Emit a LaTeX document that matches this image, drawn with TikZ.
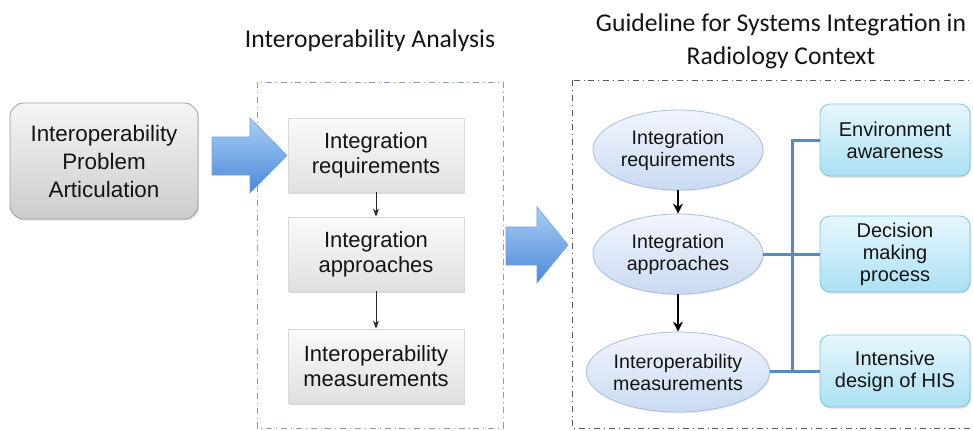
\documentclass[tikz,border=0pt]{standalone}
\usepackage{fontspec}
\setmainfont{Liberation Sans}
\newfontfamily\titlefont{Carlito}
\usepackage{tikz}
\usetikzlibrary{positioning, shapes, arrows.meta, shadows}

\definecolor{txtgray}{HTML}{141414}
\definecolor{linkblue}{HTML}{5689C6}
\definecolor{arrowtop}{HTML}{A9CDF4}
\definecolor{arrowbot}{HTML}{4A8ADA}
\definecolor{stagetop}{HTML}{F1F5FC}
\definecolor{stagebot}{HTML}{C9DAF2}
\definecolor{stageline}{HTML}{A8BEDF}
\definecolor{factortop}{HTML}{E6F7FD}
\definecolor{factorbot}{HTML}{ABE0F3}
\definecolor{factorline}{HTML}{7CC6E0}
\definecolor{frameblue}{HTML}{8A9BBE}

\begin{document}
\begin{tikzpicture}[x=0.5pt, y=-0.5pt,
    probbox/.style={draw=black!38, rounded corners=7pt, top color=black!4, bottom color=black!20,
      minimum width=94pt, minimum height=58pt, align=center, text=txtgray,
      font=\fontsize{11.2}{14}\selectfont, drop shadow={opacity=0.25, shadow xshift=0.6pt, shadow yshift=-0.8pt}},
    stepbox/.style={draw=black!15, top color=black!2, bottom color=black!12,
      minimum width=88pt, minimum height=37pt, align=center, text=txtgray,
      font=\fontsize{11}{12.5}\selectfont, drop shadow={opacity=0.3, shadow xshift=0.5pt, shadow yshift=-0.8pt}},
    stage/.style={draw=stageline, ellipse, top color=stagetop, bottom color=stagebot,
      minimum width=85pt, minimum height=40pt, inner sep=0pt, align=center, text=txtgray,
      font=\fontsize{9.8}{11}\selectfont, drop shadow={opacity=0.2, shadow xshift=0.4pt, shadow yshift=-0.6pt}},
    factor/.style={draw=factorline, rounded corners=5pt, top color=factortop, bottom color=factorbot,
      minimum width=75pt, minimum height=36pt, align=center, text=txtgray,
      font=\fontsize{10}{11}\selectfont, drop shadow={opacity=0.25, shadow xshift=0.5pt, shadow yshift=-0.8pt}},
    heading/.style={align=center, text=txtgray, font=\titlefont\fontsize{12.8}{16.5}\selectfont},
    frame/.style={dashdotted, line width=0.5pt},
    blockarrow/.style={top color=arrowtop, bottom color=arrowbot, draw=arrowbot!80, line width=0.3pt},
    thinflow/.style={-{Stealth[length=4pt, width=3pt]}, line width=0.5pt, black!85},
    boldflow/.style={-{Stealth[length=5pt, width=5pt]}, line width=1.1pt, black},
    link/.style={linkblue, line width=1.5pt}]

  \clip (0,0) rectangle (973,430);

  % group frames and headings
  \draw[frame, frameblue] (257,82) rectangle (503,428);
  \draw[frame, black!65] (572,80) rectangle (990,428);
  \node[heading] (hana) at (370,41) {Interoperability Analysis};
  \node[heading] (hguide) at (781,41) {Guideline for Systems Integration in\\Radiology Context};

  % problem box
  \node[probbox] (prob) at (104,161) {Interoperability\\Problem\\Articulation};

  % block arrows
  \shade[blockarrow] (212,137) -- (250,137) -- (250,118) -- (287,155.5) -- (250,193) -- (250,175) -- (212,175) -- cycle;
  \shade[blockarrow] (506,227) -- (537,227) -- (537,207) -- (568,245) -- (537,283) -- (537,265) -- (506,265) -- cycle;

  % interoperability analysis
  \node[stepbox] (req) at (376,155) {Integration\\requirements};
  \node[stepbox] (app) at (376,254) {Integration\\approaches};
  \node[stepbox] (meas) at (376,366) {Interoperability\\measurements};
  \draw[thinflow] (req) -- (app);
  \draw[thinflow] (app) -- (meas);

  % guideline
  \node[stage] (greq) at (678,150) {Integration\\requirements};
  \node[stage] (gapp) at (678,254) {Integration\\approaches};
  \node[stage] (gmeas) at (678,372) {Interoperability\\measurements};
  \draw[boldflow] (greq) -- (gapp);
  \draw[boldflow] (gapp) -- (gmeas);

  \node[factor] (env) at (895,140) {Environment\\awareness};
  \node[factor] (dec) at (895,254) {Decision\\making\\process};
  \node[factor] (his) at (895,371) {Intensive\\design of HIS};

  \coordinate (trunk) at (792,371);
  \draw[link] (env.west) -| (trunk);
  \draw[link] (gapp) -- (dec);
  \draw[link] (gmeas.east |- his.west) -- (his.west);
\end{tikzpicture}
\end{document}
